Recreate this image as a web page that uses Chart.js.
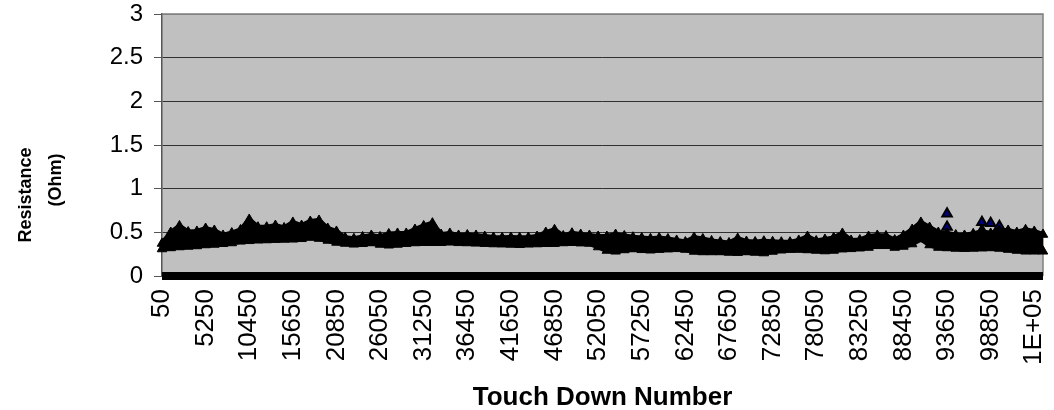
<!DOCTYPE html>
<html>
<head>
<meta charset="utf-8">
<script src="https://cdn.jsdelivr.net/npm/chart.js@4/dist/chart.umd.min.js"></script>
<style>
  html, body { margin: 0; padding: 0; background: #fff; }
  #chart { display: block; }
</style>
</head>
<body>
<canvas id="chart" width="1054" height="410"></canvas>
<script>
// ---- Data ----
// touch down numbers (one category every 1040 touch downs)
const touchDowns = [
    50, 1090, 2130, 3170, 4210, 5250, 6290, 7330, 8370, 9410,
    10450, 11490, 12530, 13570, 14610, 15650, 16690, 17730, 18770, 19810,
    20850, 21890, 22930, 23970, 25010, 26050, 27090, 28130, 29170, 30210,
    31250, 32290, 33330, 34370, 35410, 36450, 37490, 38530, 39570, 40610,
    41650, 42690, 43730, 44770, 45810, 46850, 47890, 48930, 49970, 51010,
    52050, 53090, 54130, 55170, 56210, 57250, 58290, 59330, 60370, 61410,
    62450, 63490, 64530, 65570, 66610, 67650, 68690, 69730, 70770, 71810,
    72850, 73890, 74930, 75970, 77010, 78050, 79090, 80130, 81170, 82210,
    83250, 84290, 85330, 86370, 87410, 88450, 89490, 90530, 91570, 92610,
    93650, 94690, 95730, 96770, 97810, 98850, 99890, 100930, 101970, 103010,
    104050, 105090
];

// upper edge of the resistance readings (Ohm)
const resHigh = [
    0.372, 0.498, 0.573, 0.504, 0.510, 0.544, 0.521, 0.464, 0.492, 0.527,
    0.647, 0.559, 0.559, 0.578, 0.550, 0.613, 0.578, 0.624, 0.636, 0.544,
    0.510, 0.437, 0.426, 0.447, 0.464, 0.447, 0.481, 0.487, 0.487, 0.532,
    0.573, 0.605, 0.475, 0.487, 0.464, 0.469, 0.464, 0.452, 0.441, 0.437,
    0.441, 0.437, 0.441, 0.452, 0.498, 0.529, 0.458, 0.490, 0.475, 0.464,
    0.452, 0.452, 0.475, 0.458, 0.444, 0.435, 0.426, 0.435, 0.424, 0.407,
    0.389, 0.441, 0.424, 0.401, 0.389, 0.378, 0.429, 0.395, 0.389, 0.398,
    0.392, 0.387, 0.387, 0.407, 0.452, 0.401, 0.418, 0.437, 0.487, 0.407,
    0.412, 0.452, 0.464, 0.458, 0.412, 0.464, 0.532, 0.613, 0.555, 0.498,
    0.487, 0.469, 0.464, 0.483, 0.510, 0.487, 0.521, 0.521, 0.498, 0.529,
    0.510, 0.475
];

// lower edge of the resistance readings (Ohm)
const resLow = [
    0.309, 0.321, 0.332, 0.338, 0.344, 0.355, 0.361, 0.369, 0.378, 0.397,
    0.403, 0.409, 0.412, 0.416, 0.418, 0.420, 0.426, 0.441, 0.429, 0.407,
    0.384, 0.372, 0.363, 0.369, 0.378, 0.361, 0.352, 0.361, 0.370, 0.378,
    0.381, 0.381, 0.381, 0.386, 0.380, 0.378, 0.374, 0.370, 0.366, 0.364,
    0.361, 0.358, 0.363, 0.366, 0.369, 0.370, 0.378, 0.381, 0.376, 0.372,
    0.332, 0.292, 0.283, 0.298, 0.309, 0.300, 0.295, 0.302, 0.307, 0.311,
    0.303, 0.281, 0.275, 0.275, 0.275, 0.269, 0.267, 0.275, 0.269, 0.263,
    0.281, 0.295, 0.302, 0.303, 0.298, 0.292, 0.286, 0.292, 0.307, 0.311,
    0.318, 0.326, 0.346, 0.346, 0.326, 0.338, 0.366, 0.424, 0.355, 0.326,
    0.321, 0.315, 0.313, 0.315, 0.318, 0.321, 0.315, 0.303, 0.292, 0.283,
    0.283, 0.283
];

// readings at zero
const resZero = touchDowns.map(() => 0);

// isolated high readings
const spikeA = touchDowns.map(() => null);
spikeA[90] = 0.712; spikeA[94] = 0.616; spikeA[95] = 0.605; spikeA[96] = 0.57;
const spikeB = touchDowns.map(() => null);
spikeB[90] = 0.56; spikeB[94] = 0.52;

// axis labels
const xTickLabels = [
    '50', '5250', '10450', '15650', '20850', '26050', '31250', '36450', '41650', '46850',
    '52050', '57250', '62450', '67650', '72850', '78050', '83250', '88450', '93650', '98850',
    '1E+05'
];
const yTicks = [0, 0.5, 1, 1.5, 2, 2.5, 3];

const FONT = '"Liberation Sans", Arial, sans-serif';

// drop the automatic label padding so the plot area keeps its place
function noPadding(scale) {
    scale.paddingLeft = 0;
    scale.paddingRight = 0;
    scale.paddingTop = 0;
    scale.paddingBottom = 0;
}

// ---- Plot area frame + titles ----
const plotFrame = {
    id: 'plotFrame',
    beforeDraw(chart) {
        const { ctx, chartArea: a } = chart;
        ctx.save();
        ctx.fillStyle = '#c0c0c0';
        ctx.fillRect(a.left, a.top, a.right - a.left, a.bottom - a.top);
        ctx.restore();
    },
    beforeDatasetsDraw(chart) {
        const { ctx, chartArea: a } = chart;
        ctx.save();
        ctx.strokeStyle = '#808080';
        ctx.lineWidth = 1.5;
        ctx.beginPath();
        ctx.moveTo(a.left, a.top);
        ctx.lineTo(a.right, a.top);
        ctx.lineTo(a.right, a.bottom);
        ctx.stroke();
        ctx.restore();
    },
    afterDraw(chart) {
        const { ctx, chartArea: a } = chart;
        ctx.save();
        ctx.fillStyle = '#000';
        ctx.font = 'bold 26px ' + FONT;
        ctx.textAlign = 'center';
        ctx.textBaseline = 'alphabetic';
        ctx.fillText('Touch Down Number', (a.left + a.right) / 2, 405);

        ctx.font = 'bold 18px ' + FONT;
        ctx.textBaseline = 'middle';
        ctx.translate(26, 195);
        ctx.rotate(-Math.PI / 2);
        ctx.fillText('Resistance', 0, 0);
        ctx.restore();

        ctx.save();
        ctx.fillStyle = '#000';
        ctx.font = 'bold 18px ' + FONT;
        ctx.textAlign = 'center';
        ctx.textBaseline = 'middle';
        ctx.translate(56, 180);
        ctx.rotate(-Math.PI / 2);
        ctx.fillText('(Ohm)', 0, 0);
        ctx.restore();
    }
};

// ---- Chart ----
function initResistanceChart() {
    const ctx = document.getElementById('chart');

    const marker = {
        pointStyle: 'triangle',
        pointRadius: 5.5,
        pointHoverRadius: 5.5,
        pointBorderColor: '#000',
        pointBorderWidth: 1,
    };

    new Chart(ctx, {
        type: 'line',
        data: {
            labels: touchDowns,
            datasets: [
                {
                    label: 'zero',
                    data: resZero,
                    borderColor: '#000',
                    borderWidth: 8,
                    pointRadius: 0,
                    clip: false,
                },
                Object.assign({
                    label: 'low',
                    data: resLow,
                    borderColor: '#000',
                    borderWidth: 5,
                    backgroundColor: '#000',
                    pointBackgroundColor: '#000',
                    fill: false,
                }, marker),
                Object.assign({
                    label: 'high',
                    data: resHigh,
                    borderColor: '#000',
                    borderWidth: 5,
                    backgroundColor: '#000',
                    pointBackgroundColor: '#000',
                    fill: '-1',
                }, marker),
                Object.assign({
                    label: 'spikeA',
                    data: spikeA,
                    showLine: false,
                    pointBackgroundColor: '#000080',
                }, marker, { pointBorderWidth: 2 }),
                Object.assign({
                    label: 'spikeB',
                    data: spikeB,
                    showLine: false,
                    pointBackgroundColor: '#000080',
                }, marker, { pointBorderWidth: 2 }),
            ]
        },
        options: {
            responsive: false,
            animation: false,
            devicePixelRatio: 1,
            layout: { padding: { top: 14, right: 11, left: 0, bottom: 0 } },
            elements: { line: { tension: 0 } },
            plugins: {
                legend: { display: false },
                tooltip: { enabled: false },
            },
            scales: {
                x: {
                    type: 'category',
                    offset: false,
                    grid: { display: false, drawTicks: false },
                    border: { display: false },
                    ticks: {
                        autoSkip: false,
                        minRotation: 90,
                        maxRotation: 90,
                        padding: 13,
                        color: '#000',
                        font: { family: FONT, size: 26 },
                        callback: (val, i) => (i % 5 === 0 ? xTickLabels[i / 5] : null),
                    },
                    afterFit: (scale) => { scale.height = 134; noPadding(scale); },
                },
                y: {
                    min: 0,
                    max: 3,
                    afterBuildTicks: (scale) => { scale.ticks = yTicks.map(v => ({ value: v })); },
                    grid: {
                        color: (c) => (c.tick && c.tick.value === 3 ? '#808080' : '#303030'),
                        lineWidth: 1,
                        tickLength: 8,
                        tickColor: '#555',
                    },
                    border: { color: '#555', width: 1.5 },
                    ticks: {
                        padding: 11,
                        color: '#000',
                        font: { family: FONT, size: 24 },
                        callback: (v) => String(v),
                    },
                    afterFit: (scale) => { scale.width = 162; noPadding(scale); },
                },
            },
        },
        plugins: [plotFrame],
    });
}

document.addEventListener('DOMContentLoaded', initResistanceChart);
</script>
</body>
</html>
